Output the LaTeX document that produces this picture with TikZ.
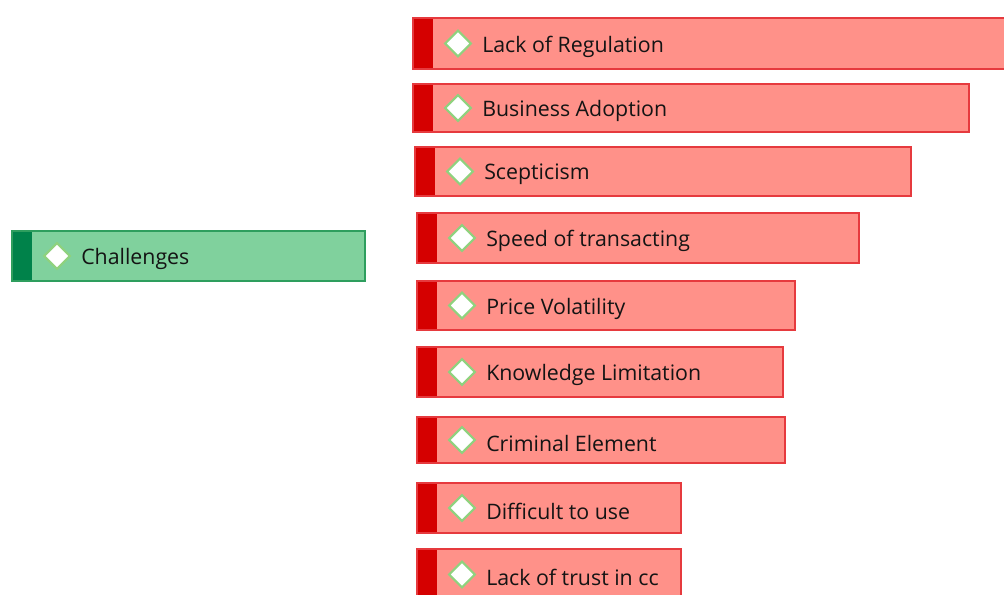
\documentclass[tikz,border=0pt]{standalone}
\usepackage{fontspec}
\setmainfont{Open Sans}
\usetikzlibrary{shapes.geometric}
\definecolor{redfill}{HTML}{FF9189}
\definecolor{redline}{HTML}{E63A3E}
\definecolor{redbar}{HTML}{D50000}
\definecolor{greenfill}{HTML}{80D19D}
\definecolor{greenline}{HTML}{2E9E5E}
\definecolor{greenbar}{HTML}{00824A}
\definecolor{diamline}{HTML}{8FD27E}
\tikzset{
  redbox/.style={draw=redline,fill=redfill,line width=1.5pt},
  redbarst/.style={fill=redbar},
  greenbox/.style={draw=greenline,fill=greenfill,line width=1.5pt},
  greenbarst/.style={fill=greenbar},
  diam/.style={diamond,draw=diamline,fill=white,line width=1.6pt,minimum width=20pt,minimum height=20pt,inner sep=0pt},
  lbl/.style={anchor=west,inner sep=0pt,font=\fontsize{16pt}{18pt}\selectfont,text=black!92}
}
% #1 name, #2 x1, #3 y1, #4 x2, #5 y2, #6 text, #7 kind (red/green)
\newcommand\mmbox[7]{%
  \path[#7box] (#2,#3) rectangle (#4,#5);
  \path[#7barst] (#2,#3) rectangle (#2+20,#5);
  \path[#7box,fill=none] (#2,#3) rectangle (#4,#5);
  \node[diam] (#1d) at (#2+45,{(#3+#5)/2}) {};
  \node[lbl] (#1) at (#2+69,{(#3+#5)/2+3}) {#6};
}
\begin{document}
\begin{tikzpicture}[x=0.75pt,y=-0.75pt]
\useasboundingbox (0,0) rectangle (1004,594);
\mmbox{ch}{12}{231}{365}{281}{Challenges}{green}
\mmbox{a}{413}{18}{1010}{69}{Lack of Regulation}{red}
\mmbox{b}{413}{84}{969}{132}{Business Adoption}{red}
\mmbox{c}{415}{147}{911}{196}{Scepticism}{red}
\mmbox{d}{417}{213}{859}{263}{Speed of transacting}{red}
\mmbox{e}{417}{281}{795}{330}{Price Volatility}{red}
\mmbox{f}{417}{347}{783}{397}{Knowledge Limitation}{red}
\mmbox{g}{417}{417}{785}{463}{Criminal Element}{red}
\mmbox{h}{417}{483}{681}{533}{Difficult to use}{red}
\mmbox{i}{417}{549}{681}{600}{Lack of trust in cc}{red}
\end{tikzpicture}
\end{document}
